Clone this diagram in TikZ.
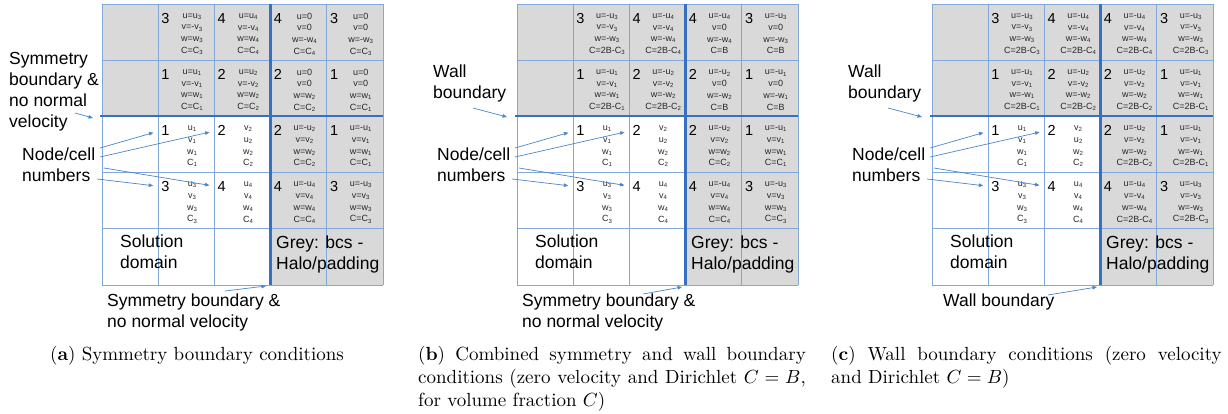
\documentclass[tikz,border=0pt]{standalone}
\usepackage{graphicx}
\usepackage{fontspec}
\newfontfamily\arialfont{Liberation Sans}
\usetikzlibrary{arrows.meta, positioning, calc}

\definecolor{gridblue}{RGB}{130,168,218}
\definecolor{wallblue}{RGB}{55,112,190}
\definecolor{arrowblue}{RGB}{75,132,202}
\definecolor{halogrey}{RGB}{217,217,217}

\newcommand{\nsub}[1]{\textsubscript{#1}}
% caption text, set at 10pt and blown up like the scanned figure
\newcommand{\captext}[2]{\scalebox{1.9}{\parbox[t]{#1}{\fontsize{10}{12}\selectfont #2}}}

% grid of one panel, grey halo cells and the two boundary lines
\newcommand{\halogrid}{%
  \fill[halogrey] (102,4) rectangle (383,116);
  \fill[halogrey] (270.6,116) rectangle (383,285);
  \foreach \i in {0,...,5} {
    \draw[gridline] ({102+56.2*\i},4) -- ({102+56.2*\i},285);
    \draw[gridline] (102,{4+56.2*\i}) -- (383,{4+56.2*\i});
  }
  \draw[wall] (100,116) -- (383,116);
  \draw[wall] (270.6,4) -- (270.6,285);
}

% one cell: panel, column, row, number, values
\newcommand{\cellentry}[5]{%
  \node[cellnum] (#1n#2#3) at ({105+56.2*(#2-1)},{23+56.2*(#3-1)}) {#4};
  \node[cellvals] (#1v#2#3) at ({136+56.2*(#2-1)},{34+56.2*(#3-1)}) {#5};
}

% parts that all three panels share
\newcommand{\domainparts}[1]{%
  \cellentry{#1}{2}{3}{1}{u\nsub1\\v\nsub1\\w\nsub1\\C\nsub1}
  \cellentry{#1}{3}{3}{2}{v\nsub2\\u\nsub2\\w\nsub2\\C\nsub2}
  \cellentry{#1}{2}{4}{3}{u\nsub3\\v\nsub3\\w\nsub3\\C\nsub3}
  \cellentry{#1}{3}{4}{4}{u\nsub4\\v\nsub4\\w\nsub4\\C\nsub4}
  \node[sidelabel] (#1solution) at (120,235) {Solution\\domain};
  \node[sidelabel] (#1grey) at (276,236) {Grey: bcs -\\Halo/padding};
  \node[sidelabel] (#1numbers) at (22,148) {Node/cell\\numbers};
  \coordinate (#1p1) at (100,148);
  \coordinate (#1p2) at (100,157);
  \coordinate (#1p4) at (104,168);
  \coordinate (#1p3) at (97,179);
  \draw[arrow, shorten >=8pt] (#1p1) -- (#1n23.west);
  \draw[arrow, shorten >=8pt] (#1p2) -- (#1n33.west);
  \draw[arrow, shorten >=8pt] (#1p3) -- (#1n24.west);
  \draw[arrow, shorten >=8pt] (#1p4) -- (#1n34.west);
}

\begin{document}
\begin{tikzpicture}[
    x=1pt, y=-1pt,
    gridline/.style={gridblue, line width=0.8pt},
    wall/.style={wallblue, line width=2.4pt},
    cellnum/.style={anchor=base west, inner sep=0pt, font=\arialfont\fontsize{14.5}{14.5}\selectfont},
    cellvals/.style={anchor=center, inner sep=0pt, align=center, text=black!85, font=\arialfont\fontsize{9}{11.7}\selectfont},
    sidelabel/.style={anchor=north west, inner sep=0pt, align=left, font=\arialfont\fontsize{17.5}{21}\selectfont},
    caption/.style={anchor=north west, inner sep=0pt},
    arrow/.style={-{Triangle[length=4.5pt, width=3.5pt]}, arrowblue, line width=0.7pt}
  ]
  \useasboundingbox (0,0) rectangle (1228,413);

  % (a) symmetry boundary conditions
  \begin{scope}
    \halogrid
    \cellentry{a}{2}{1}{3}{u=u\nsub3\\v=-v\nsub3\\w=w\nsub3\\C=C\nsub3}
    \cellentry{a}{3}{1}{4}{u=u\nsub4\\v=-v\nsub4\\w=w\nsub4\\C=C\nsub4}
    \cellentry{a}{4}{1}{4}{u=0\\v=0\\w=-w\nsub4\\C=C\nsub4}
    \cellentry{a}{5}{1}{3}{u=0\\v=0\\w=-w\nsub3\\C=C\nsub3}
    \cellentry{a}{2}{2}{1}{u=u\nsub1\\v=-v\nsub1\\w=w\nsub1\\C=C\nsub1}
    \cellentry{a}{3}{2}{2}{u=u\nsub2\\v=-v\nsub2\\w=w\nsub2\\C=C\nsub2}
    \cellentry{a}{4}{2}{2}{u=0\\v=0\\w=w\nsub2\\C=C\nsub2}
    \cellentry{a}{5}{2}{1}{u=0\\v=0\\w=w\nsub1\\C=C\nsub1}
    \cellentry{a}{4}{3}{2}{u=-u\nsub2\\v=v\nsub2\\w=w\nsub2\\C=C\nsub2}
    \cellentry{a}{5}{3}{1}{u=-u\nsub1\\v=v\nsub1\\w=w\nsub1\\C=C\nsub1}
    \cellentry{a}{4}{4}{4}{u=-u\nsub4\\v=v\nsub4\\w=w\nsub4\\C=C\nsub4}
    \cellentry{a}{5}{4}{3}{u=-u\nsub3\\v=v\nsub3\\w=w\nsub3\\C=C\nsub3}
    \domainparts{a}
    \node[sidelabel] (asym) at (9,52) {Symmetry\\boundary \&\\no normal\\velocity};
    \coordinate (asymtail) at (75,113);
    \coordinate (asymhead) at (93,118);
    \draw[arrow] (asymtail) -- (asymhead);
    \node[sidelabel] (asymlow) at (107,294) {Symmetry boundary \&\\no normal velocity};
    \coordinate (alowtail) at (225,291);
    \coordinate (alowhead) at (266,286);
    \draw[arrow] (alowtail) -- (alowhead);
    \node[caption, anchor=north] (acap) at (197,346)
      {\scalebox{1.9}{\fontsize{10}{12}\selectfont (\textbf{a}) Symmetry boundary conditions}};
  \end{scope}

  % (b) symmetry and wall boundary conditions
  \begin{scope}[shift={(415,0)}]
    \halogrid
    \cellentry{b}{2}{1}{3}{u=-u\nsub3\\v=-v\nsub3\\w=-w\nsub3\\C=2B-C\nsub3}
    \cellentry{b}{3}{1}{4}{u=-u\nsub4\\v=-v\nsub4\\w=-w\nsub4\\C=2B-C\nsub4}
    \cellentry{b}{4}{1}{4}{u=-u\nsub4\\v=0\\w=-w\nsub4\\C=B}
    \cellentry{b}{5}{1}{3}{u=-u\nsub3\\v=0\\w=-w\nsub3\\C=B}
    \cellentry{b}{2}{2}{1}{u=-u\nsub1\\v=-v\nsub1\\w=-w\nsub1\\C=2B-C\nsub1}
    \cellentry{b}{3}{2}{2}{u=-u\nsub2\\v=-v\nsub2\\w=-w\nsub2\\C=2B-C\nsub2}
    \cellentry{b}{4}{2}{2}{u=-u\nsub2\\v=0\\w=-w\nsub2\\C=B}
    \cellentry{b}{5}{2}{1}{u=-u\nsub1\\v=0\\w=-w\nsub1\\C=B}
    \cellentry{b}{4}{3}{2}{u=-u\nsub2\\v=v\nsub2\\w=w\nsub2\\C=C\nsub2}
    \cellentry{b}{5}{3}{1}{u=-u\nsub1\\v=v\nsub1\\w=w\nsub1\\C=C\nsub1}
    \cellentry{b}{4}{4}{4}{u=-u\nsub4\\v=v\nsub4\\w=w\nsub4\\C=C\nsub4}
    \cellentry{b}{5}{4}{3}{u=-u\nsub3\\v=v\nsub3\\w=w\nsub3\\C=C\nsub3}
    \domainparts{b}
    \node[sidelabel] (bwall) at (18,65) {Wall\\boundary};
    \coordinate (bwalltail) at (58,108);
    \coordinate (bwallhead) at (92,117);
    \draw[arrow] (bwalltail) -- (bwallhead);
    \node[sidelabel] (bsymlow) at (107,294) {Symmetry boundary \&\\no normal velocity};
    \coordinate (blowtail) at (228,294);
    \coordinate (blowhead) at (267,287);
    \draw[arrow] (blowtail) -- (blowhead);
    \node[caption] (bcap) at (3,346)
      {\captext{204pt}{(\textbf{b}) Combined symmetry and wall boundary\linebreak
       conditions (zero velocity and Dirichlet $C=B$,\linebreak
       for volume fraction $C$)}};
  \end{scope}

  % (c) wall boundary conditions
  \begin{scope}[shift={(830,0)}]
    \halogrid
    \cellentry{c}{2}{1}{3}{u=-u\nsub3\\v=-v\nsub3\\w=-w\nsub3\\C=2B-C\nsub3}
    \cellentry{c}{3}{1}{4}{u=-u\nsub4\\v=-v\nsub4\\w=-w\nsub4\\C=2B-C\nsub4}
    \cellentry{c}{4}{1}{4}{u=-u\nsub4\\v=-v\nsub4\\w=-w\nsub4\\C=2B-C\nsub4}
    \cellentry{c}{5}{1}{3}{u=-u\nsub3\\v=-v\nsub3\\w=-w\nsub3\\C=2B-C\nsub3}
    \cellentry{c}{2}{2}{1}{u=-u\nsub1\\v=-v\nsub1\\w=-w\nsub1\\C=2B-C\nsub1}
    \cellentry{c}{3}{2}{2}{u=-u\nsub2\\v=-v\nsub2\\w=-w\nsub2\\C=2B-C\nsub2}
    \cellentry{c}{4}{2}{2}{u=-u\nsub2\\v=-v\nsub2\\w=-w\nsub2\\C=2B-C\nsub2}
    \cellentry{c}{5}{2}{1}{u=-u\nsub1\\v=-v\nsub1\\w=-w\nsub1\\C=2B-C\nsub1}
    \cellentry{c}{4}{3}{2}{u=-u\nsub2\\v=-v\nsub2\\w=-w\nsub2\\C=2B-C\nsub2}
    \cellentry{c}{5}{3}{1}{u=-u\nsub1\\v=-v\nsub1\\w=-w\nsub1\\C=2B-C\nsub1}
    \cellentry{c}{4}{4}{4}{u=-u\nsub4\\v=-v\nsub4\\w=-w\nsub4\\C=2B-C\nsub4}
    \cellentry{c}{5}{4}{3}{u=-u\nsub3\\v=-v\nsub3\\w=-w\nsub3\\C=2B-C\nsub3}
    \domainparts{c}
    \node[sidelabel] (cwall) at (18,65) {Wall\\boundary};
    \coordinate (cwalltail) at (58,108);
    \coordinate (cwallhead) at (92,117);
    \draw[arrow] (cwalltail) -- (cwallhead);
    \node[sidelabel] (cwalllow) at (113,294) {Wall boundary};
    \coordinate (clowtail) at (218,295);
    \coordinate (clowhead) at (267,287);
    \draw[arrow] (clowtail) -- (clowhead);
    \node[caption] (ccap) at (1,346)
      {\captext{205.5pt}{(\textbf{c}) Wall boundary conditions (zero velocity\linebreak
       and Dirichlet $C=B$)}};
  \end{scope}
\end{tikzpicture}
\end{document}
